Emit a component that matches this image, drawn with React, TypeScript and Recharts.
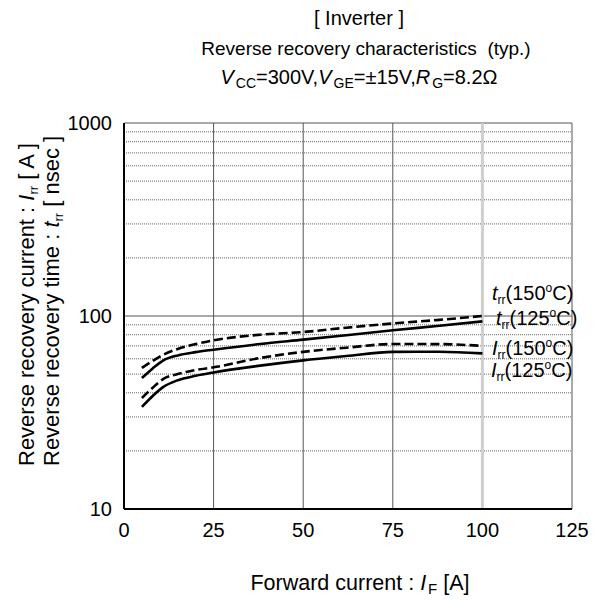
import React from 'react';
import { LineChart, Line, XAxis, YAxis, ReferenceLine } from 'recharts';

// forward current I_F [A]
const currents = [5, 8, 11, 15, 20, 25, 38, 50, 62, 75, 88, 100];
// t_rr [nsec]
const trr150 = [53.8, 58.5, 63.0, 67.5, 71.5, 74.8, 80.0, 82.6, 87.0, 91.5, 95.5, 100];
const trr125 = [47.7, 53.5, 58.9, 62.5, 65.0, 66.9, 71.6, 75.4, 79.5, 84.3, 89.0, 93.8];
// I_rr [A]
const irr150 = [37.6, 42.5, 47.2, 50.0, 52.5, 54.2, 60.6, 65.2, 68.5, 71.6, 71.5, 70.0];
const irr125 = [33.8, 38.5, 42.9, 46.5, 49.0, 51.0, 55.3, 58.9, 62.0, 65.2, 65.3, 64.0];

const xTicks = [0, 25, 50, 75, 100, 125];
const yTicks = [10, 100, 1000];
const xMinorTicks = [5, 10, 15, 20, 30, 35, 40, 45, 55, 60, 65, 70, 80, 85, 90, 95, 105, 110, 115, 120];
const yMinorTicks = [20, 30, 40, 50, 60, 70, 80, 90, 200, 300, 400, 500, 600, 700, 800, 900];
const xGrid = [25, 50, 75];

const FONT = '"Liberation Sans", Arial, sans-serif';

const data = currents.map((c, i) => ({
    current: c,
    trr150: trr150[i],
    trr125: trr125[i],
    irr150: irr150[i],
    irr125: irr125[i],
}));

const NoLabel = () => <g />;

// 曲線標籤 (t_rr / I_rr)
const CurveLabel = ({ x, y, sym, temp }: { x: number; y: number; sym: string; temp: string }) => (
    <text x={x} y={y} fontSize={20} fontFamily={FONT} fill="#000">
        <tspan fontStyle="italic">{sym}</tspan>
        <tspan fontSize={12} dy={4}>rr</tspan>
        <tspan dy={-4}>({temp}</tspan>
        <tspan fontSize={12} dy={-8}>o</tspan>
        <tspan dy={8}>C)</tspan>
    </text>
);

export default function App() {
    return (
        <div style={{ position: 'absolute', left: 0, top: 0, width: 596, height: 608, background: '#fff' }}>
            <LineChart
                width={596}
                height={608}
                data={data}
                margin={{ top: 123, right: 24, bottom: 69, left: 64 }}
            >
                {/* grid */}
                {yMinorTicks.map(v => (
                    <ReferenceLine key={'h' + v} xAxisId="main" yAxisId="main" y={v}
                        stroke="#666" strokeWidth={1} strokeDasharray="1 1" />
                ))}
                <ReferenceLine xAxisId="main" yAxisId="main" y={100} stroke="#555" strokeWidth={1} />
                <ReferenceLine xAxisId="main" yAxisId="main" y={1000} stroke="#555" strokeWidth={1} />
                {xGrid.map(v => (
                    <ReferenceLine key={'v' + v} xAxisId="main" yAxisId="main" x={v} stroke="#555" strokeWidth={1} />
                ))}
                <ReferenceLine xAxisId="main" yAxisId="main" x={100} stroke="#cfcfcf" strokeWidth={3} />
                <ReferenceLine xAxisId="main" yAxisId="main" x={125} stroke="#555" strokeWidth={1} />

                <XAxis
                    xAxisId="main"
                    type="number"
                    dataKey="current"
                    domain={[0, 125]}
                    ticks={xTicks}
                    height={30}
                    tickLine={false}
                    tickSize={0}
                    tickMargin={14}
                    axisLine={{ stroke: '#000', strokeWidth: 2 }}
                    tick={{ fill: '#000', fontSize: 20, fontFamily: FONT }}
                />
                <XAxis
                    xAxisId="minor"
                    type="number"
                    domain={[0, 125]}
                    ticks={xMinorTicks}
                    mirror
                    height={0}
                    tickSize={5}
                    tickLine={{ stroke: '#888' }}
                    axisLine={false}
                    tick={<NoLabel />}
                />
                <YAxis
                    yAxisId="main"
                    type="number"
                    scale="log"
                    domain={[10, 1000]}
                    allowDataOverflow
                    ticks={yTicks}
                    width={60}
                    tickLine={false}
                    tickSize={0}
                    tickMargin={12}
                    axisLine={{ stroke: '#000', strokeWidth: 2 }}
                    tick={{ fill: '#000', fontSize: 20, fontFamily: FONT }}
                />
                <YAxis
                    yAxisId="minor"
                    type="number"
                    scale="log"
                    domain={[10, 1000]}
                    allowDataOverflow
                    ticks={yMinorTicks}
                    mirror
                    width={0}
                    tickSize={6}
                    tickLine={{ stroke: '#333' }}
                    axisLine={false}
                    tick={<NoLabel />}
                />

                <Line xAxisId="main" yAxisId="main" type="monotone" dataKey="trr150" stroke="#000"
                    strokeWidth={2.6} strokeDasharray="9 4" dot={false} isAnimationActive={false} />
                <Line xAxisId="main" yAxisId="main" type="monotone" dataKey="trr125" stroke="#000"
                    strokeWidth={2.6} dot={false} isAnimationActive={false} />
                <Line xAxisId="main" yAxisId="main" type="monotone" dataKey="irr150" stroke="#000"
                    strokeWidth={2.6} strokeDasharray="9 4" dot={false} isAnimationActive={false} />
                <Line xAxisId="main" yAxisId="main" type="monotone" dataKey="irr125" stroke="#000"
                    strokeWidth={2.6} dot={false} isAnimationActive={false} />
            </LineChart>

            {/* 標題、軸標題、曲線標籤 */}
            <svg width={596} height={608} style={{ position: 'absolute', left: 0, top: 0, pointerEvents: 'none' }}>
                <g fontFamily={FONT} fill="#000" fontSize={20}>
                    <text x={359} y={25} textAnchor="middle" style={{ whiteSpace: 'pre' }}>[ Inverter ]</text>
                    <text x={366} y={55} fontSize={19} textAnchor="middle" style={{ whiteSpace: 'pre' }}>
                        Reverse recovery characteristics  (typ.)
                    </text>
                    <text x={359} y={84} textAnchor="middle">
                        <tspan fontStyle="italic">V</tspan>
                        <tspan fontSize={14} dy={4} dx={2}>CC</tspan>
                        <tspan dy={-4}>=300V,</tspan>
                        <tspan fontStyle="italic">V</tspan>
                        <tspan fontSize={14} dy={4} dx={2}>GE</tspan>
                        <tspan dy={-4}>=±15V,</tspan>
                        <tspan fontStyle="italic">R</tspan>
                        <tspan fontSize={14} dy={4} dx={2}>G</tspan>
                        <tspan dy={-4}>=8.2Ω</tspan>
                    </text>

                    <text x={360} y={590} fontSize={21.5} textAnchor="middle">
                        Forward current : <tspan fontStyle="italic">I</tspan>
                        <tspan fontSize={15} dy={4} dx={2}>F</tspan>
                        <tspan dy={-4}> [A]</tspan>
                    </text>

                    <g fontSize={22} style={{ whiteSpace: 'pre' }}>
                        <text transform="translate(34,466) rotate(-90)">
                            {'Reverse recovery current  :  '}<tspan fontStyle="italic">I</tspan>
                            <tspan fontSize={13} dy={4}>rr</tspan>
                            <tspan dy={-4}>{'  [ A ]'}</tspan>
                        </text>
                        <text transform="translate(59,466) rotate(-90)">
                            {'Reverse recovery time  :  '}<tspan fontStyle="italic">t</tspan>
                            <tspan fontSize={13} dy={4}>rr</tspan>
                            <tspan dy={-4}>{'  [ nsec ]'}</tspan>
                        </text>
                    </g>
                </g>
                <CurveLabel x={492} y={300} sym="t" temp="150" />
                <CurveLabel x={496} y={325} sym="t" temp="125" />
                <CurveLabel x={492} y={355} sym="I" temp="150" />
                <CurveLabel x={491} y={377} sym="I" temp="125" />
            </svg>
        </div>
    );
}
